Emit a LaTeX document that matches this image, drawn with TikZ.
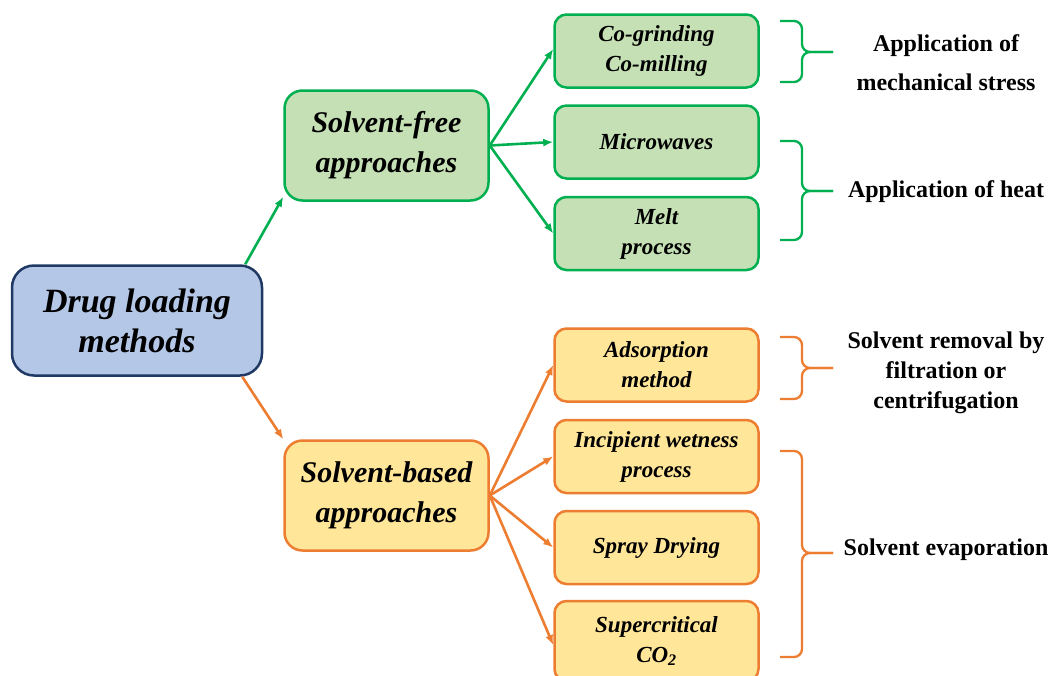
\documentclass[tikz,border=0pt]{standalone}
\usepackage{fontspec}
\setmainfont{Liberation Serif}
\usetikzlibrary{arrows.meta, positioning}
\definecolor{drugfill}{RGB}{180,199,231}
\definecolor{drugnavy}{RGB}{32,56,100}
\definecolor{freegreen}{RGB}{0,176,80}
\definecolor{freefill}{RGB}{197,224,180}
\definecolor{basedorange}{RGB}{237,125,49}
\definecolor{basedfill}{RGB}{255,230,153}

\begin{document}
\begin{tikzpicture}[x=1pt, y=-1pt,
    box/.style={rectangle, rounded corners=18pt, line width=2.5pt, inner sep=0pt, align=center, minimum width=204pt, minimum height=110pt, font=\bfseries\itshape\fontsize{30}{40}\selectfont},
    smallbox/.style={box, rounded corners=12pt, minimum height=73pt, font=\bfseries\itshape\fontsize{23}{30}\selectfont},
    freebox/.style={draw=freegreen, fill=freefill},
    basedbox/.style={draw=basedorange, fill=basedfill},
    arrow/.style={-{Latex[length=10pt, width=8pt]}, line width=2.6pt},
    brace/.style={rounded corners=8pt, line width=2.3pt},
    label/.style={align=center, font=\bfseries\fontsize{24}{30}\selectfont}
]
    \useasboundingbox (0,0) rectangle (1051,675);

    % Nodes
    \node[box, draw=drugnavy, fill=drugfill, rounded corners=22pt, minimum width=250pt, font=\bfseries\itshape\fontsize{34}{40}\selectfont] (drug) at (137,320.5) {Drug loading\\methods};
    \node[box, freebox] (sfree) at (386.5,145.5) {Solvent-free\\approaches};
    \node[box, basedbox] (sbased) at (386.5,495.5) {Solvent-based\\approaches};

    \node[smallbox, freebox] (cogrind) at (656.5,51) {Co-grinding\\Co-milling};
    \node[smallbox, freebox] (micro) at (656.5,142) {Microwaves};
    \node[smallbox, freebox] (melt) at (656.5,233.5) {Melt\\process};

    \node[smallbox, basedbox] (adsorb) at (656.5,365) {Adsorption\\method};
    \node[smallbox, basedbox] (incip) at (656.5,456.5) {Incipient wetness\\process};
    \node[smallbox, basedbox] (spray) at (656.5,547.5) {Spray Drying};
    \node[smallbox, basedbox, minimum height=80pt] (supcrit) at (656.5,641) {Supercritical\\CO\textsubscript{2}};

    % Arrows
    \draw[arrow, freegreen] ([xshift=-18pt]drug.north east) -- ([yshift=5pt]sfree.south west);
    \draw[arrow, basedorange] ([xshift=-21pt]drug.south east) -- (sbased.north west);
    \draw[arrow, freegreen] (sfree.east) -- ([yshift=2pt]cogrind.west);
    \draw[arrow, freegreen] (sfree.east) -- (micro.west);
    \draw[arrow, freegreen] (sfree.east) -- (melt.west);
    \draw[arrow, basedorange] (sbased.east) -- (adsorb.west);
    \draw[arrow, basedorange] (sbased.east) -- (incip.west);
    \draw[arrow, basedorange] (sbased.east) -- (spray.west);
    \draw[arrow, basedorange] (sbased.east) -- ([yshift=-4pt]supcrit.west);

    % Braces
    \draw[brace, freegreen] (780,21) -| (802,52) -- (833,52);
    \draw[brace, freegreen] (780,82) -| (802,52) -- (833,52);
    \draw[brace, freegreen] (780,141) -| (802,191) -- (833,191);
    \draw[brace, freegreen] (780,240) -| (802,191) -- (833,191);
    \draw[brace, basedorange] (780,337) -| (802,368) -- (833,368);
    \draw[brace, basedorange] (780,399) -| (802,368) -- (833,368);
    \draw[brace, basedorange] (780,451) -| (802,553) -- (833,553);
    \draw[brace, basedorange] (780,657) -| (802,553) -- (833,553);

    % Annotations
    \node[label, font=\bfseries\fontsize{24}{39}\selectfont] (mech) at (946,63) {Application of\\mechanical stress};
    \node[label] (heat) at (946,192) {Application of heat};
    \node[label] (removal) at (946,373) {Solvent removal by\\filtration or\\centrifugation};
    \node[label] (evap) at (946,550) {Solvent evaporation};
\end{tikzpicture}
\end{document}
